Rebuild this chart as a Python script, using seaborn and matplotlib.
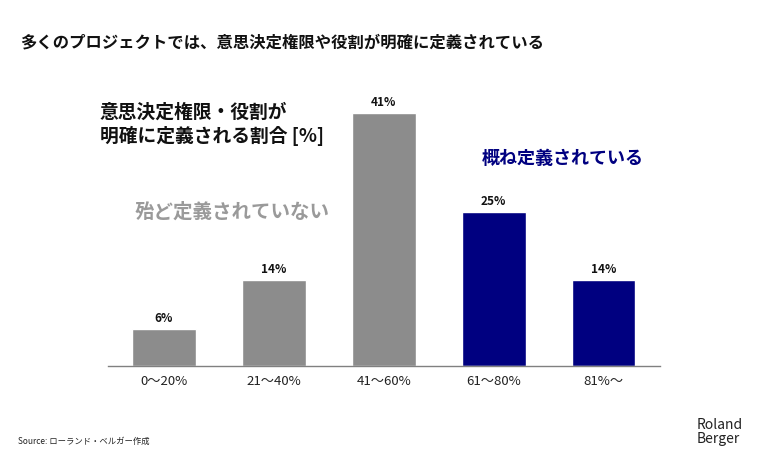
import matplotlib
matplotlib.use("Agg")
import matplotlib.pyplot as plt
import seaborn as sns
import pandas as pd

# データ
categories = ["0～20%", "21～40%", "41～60%", "61～80%", "81%～"]
values = [6, 14, 41, 25, 14]
groups = ["殆ど定義されていない", "殆ど定義されていない", "殆ど定義されていない",
          "概ね定義されている", "概ね定義されている"]
palette = {"殆ど定義されていない": "#8c8c8c", "概ね定義されている": "#000080"}

df = pd.DataFrame({"range": categories, "share": values, "group": groups})

sns.set_style("white")
plt.rcParams["font.family"] = ["Noto Sans CJK JP", "DejaVu Sans"]

fig = plt.figure(figsize=(7.68, 4.64), dpi=100)
ax = fig.add_axes([0.1406, 0.209, 0.7182, 0.598])

sns.barplot(data=df, x="range", y="share", hue="group", palette=palette,
            dodge=False, width=0.58, legend=False, ax=ax, saturation=1)

for p, v in zip(ax.patches, values):
    ax.annotate(f"{v}%", (p.get_x() + p.get_width() / 2, p.get_height()),
                xytext=(0, 3.5), textcoords="offset points",
                ha="center", va="bottom", fontsize=8.5, fontweight="bold", color="#111111")

ax.set_xlim(-0.51, 4.51)
ax.set_ylim(0, 45)
ax.set_xlabel("")
ax.set_ylabel("")
ax.set_yticks([])
ax.tick_params(axis="x", length=0, pad=6, labelsize=9.5, labelcolor="#222222")
for s in ["top", "right", "left"]:
    ax.spines[s].set_visible(False)
ax.spines["bottom"].set_color("#808080")
ax.spines["bottom"].set_linewidth(1.0)

# テキスト
fig.text(20 / 768, 1 - 42 / 464, "多くのプロジェクトでは、意思決定権限や役割が明確に定義されている",
         fontsize=11.75, fontweight="bold", va="center", ha="left", color="#111111")
fig.text(100 / 768, 1 - 124 / 464, "意思決定権限・役割が\n明確に定義される割合 [%]",
         fontsize=13.5, fontweight="bold", va="center", ha="left", color="#111111",
         linespacing=1.25)
fig.text(135 / 768, 1 - 212 / 464, "殆ど定義されていない",
         fontsize=14, fontweight="bold", va="center", ha="left", color="#9a9a9a")
fig.text(482 / 768, 1 - 158 / 464, "概ね定義されている",
         fontsize=13, fontweight="bold", va="center", ha="left", color="#000080")
fig.text(18 / 768, 1 - 441 / 464, "Source: ローランド・ベルガー作成",
         fontsize=6, va="center", ha="left", color="#222222")
fig.text(697 / 768, 1 - 432 / 464, "Roland\nBerger",
         fontsize=10, va="center", ha="left", color="#222222", linespacing=1.05)

fig.savefig("out.png", dpi=100)
